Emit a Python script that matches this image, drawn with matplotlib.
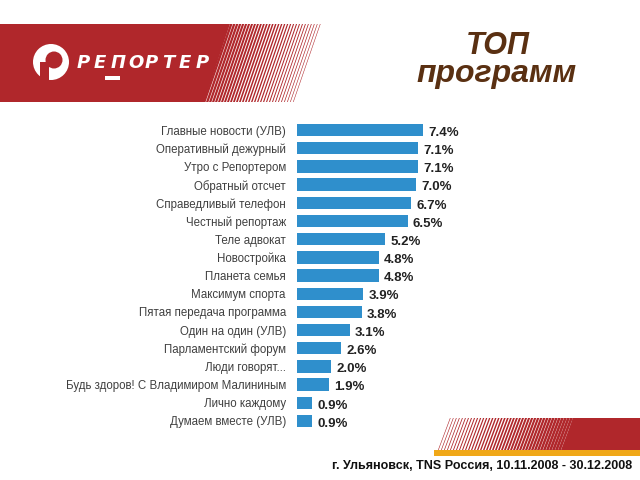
import numpy as np
import matplotlib.pyplot as plt
from matplotlib.patches import Polygon, Circle, Rectangle

programs = [
    "Главные новости (УЛВ)", "Оперативный дежурный", "Утро с Репортером",
    "Обратный отсчет", "Справедливый телефон", "Честный репортаж",
    "Теле адвокат", "Новостройка", "Планета семья", "Максимум спорта",
    "Пятая передача программа", "Один на один (УЛВ)", "Парламентский форум",
    "Люди говорят...", "Будь здоров! С Владимиром Малининым", "Лично каждому",
    "Думаем вместе (УЛВ)",
]
shares = [7.4, 7.1, 7.1, 7.0, 6.7, 6.5, 5.2, 4.8, 4.8, 3.9, 3.8, 3.1, 2.6, 2.0, 1.9, 0.9, 0.9]
footer = "г. Ульяновск, TNS Россия, 10.11.2008 - 30.12.2008"
logo_text = "РЕПОРТЕР"

plt.rcParams['font.family'] = ['Liberation Sans', 'DejaVu Sans']
red = '#b0272b'

fig = plt.figure(figsize=(6.4, 4.8), dpi=100)

# background axes in pixel coordinates for the decorations
bg = fig.add_axes([0, 0, 1, 1])
bg.set_xlim(0, 640)
bg.set_ylim(480, 0)
bg.axis('off')

# top banner
bg.add_patch(Polygon([(0, 24), (230, 24), (204, 102), (0, 102)], color=red, lw=0))
x = 230.0
w = 2.5
while x < 321:
    bg.add_patch(Polygon([(x, 24), (x + w, 24), (x + w - 27, 102), (x - 27, 102)],
                         color=red, lw=0))
    x += 3.0
    w = max(0.5, w - 0.065)

# logo
bg.add_patch(Circle((51, 62), 18, color='white', lw=0))
bg.add_patch(Circle((54, 60), 8.5, color=red, lw=0))
bg.add_patch(Rectangle((40, 62), 9, 20, color=red, lw=0))
for i, ch in enumerate(logo_text):
    bg.text(77 + i * 17, 63, ch, color='white', fontsize=13, fontweight='bold',
            fontstyle='italic', va='center', ha='left', family='DejaVu Sans')
bg.add_patch(Rectangle((105, 76), 15, 4, color='white', lw=0))

# title
bg.text(498, 46, "ТОП", color='#5a3012', fontsize=22, fontweight='bold',
        fontstyle='italic', ha='center', va='center')
bg.text(497, 74, "программ", color='#5a3012', fontsize=23, fontweight='bold',
        fontstyle='italic', ha='center', va='center')

# footer band
bg.add_patch(Polygon([(573, 418), (640, 418), (640, 450), (563, 450)], color=red, lw=0))
x = 450.0
w = 0.6
while x < 575:
    bg.add_patch(Polygon([(x, 418), (x + w, 418), (x + w - 12, 450), (x - 12, 450)],
                         color=red, lw=0))
    x += 3.0
    w = min(2.9, w + 0.06)
bg.add_patch(Rectangle((434, 450), 206, 6, color='#f0a818', lw=0))
bg.text(632, 466, footer, fontsize=9, fontweight='bold', ha='right', va='center',
        color='#111111')

# bar chart
ax = fig.add_axes([0.464, 0.104, 0.266, 0.644])
ax.patch.set_alpha(0)
y = np.arange(len(programs))
ax.barh(y, shares, height=0.68, color='#2f8fcc')
ax.set_ylim(len(programs) - 0.5, -0.5)
ax.set_xlim(0, 10)
ax.set_yticks(y)
ax.set_yticklabels(programs, fontsize=8.3, color='#404040')
ax.tick_params(axis='y', length=0, pad=8)
ax.set_xticks([])
for s in ax.spines.values():
    s.set_visible(False)
for yi, v in zip(y, shares):
    ax.text(v + 0.3, yi + 0.15, f"{v:.1f}%", fontsize=9.5, fontweight='bold',
            va='center', ha='left', color='#222222')

fig.savefig('out.png', dpi=100)
